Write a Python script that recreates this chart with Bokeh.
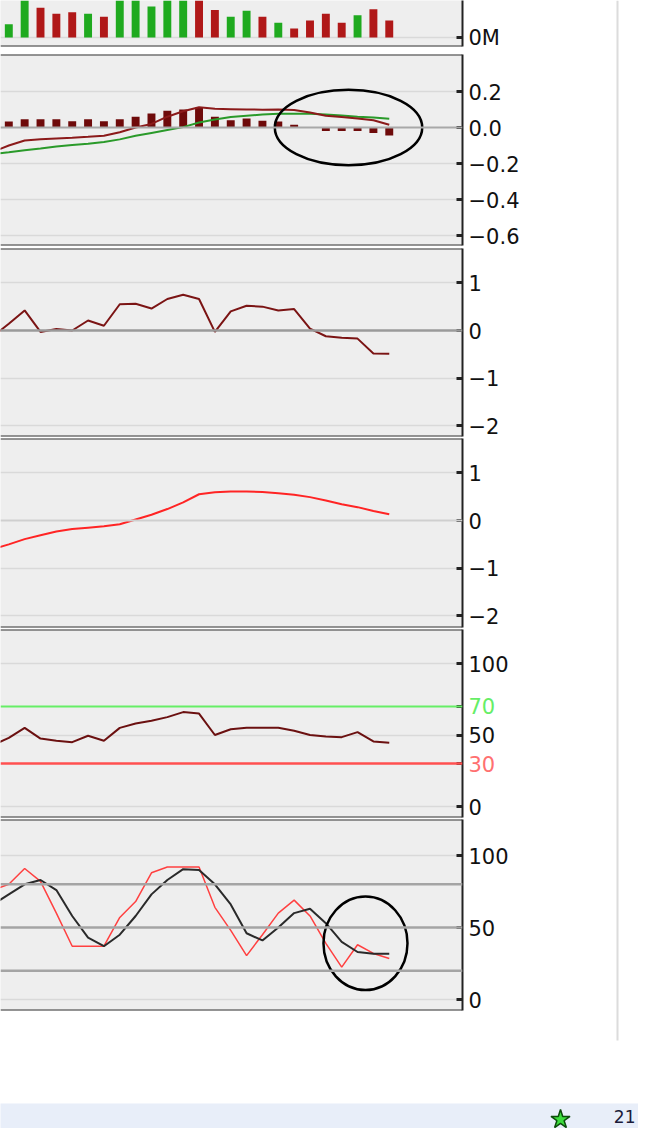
from bokeh.plotting import figure
from bokeh.models import Range1d, FixedTicker, Span
from bokeh.layouts import column, row
from bokeh.embed import file_html
from bokeh.resources import INLINE
from bokeh.core.properties import value

# ---------------- data ----------------
bar_idx = list(range(0, 25))          # one slot per trading day
line_idx = list(range(-1, 25))        # lines start one slot left of the crop

volume_m = [0.18, 0.62, 0.40, 0.32, 0.34, 0.32, 0.28, 0.70, 0.66, 0.42, 0.60, 0.75, 0.68,
            0.37, 0.28, 0.36, 0.28, 0.20, 0.12, 0.23, 0.32, 0.20, 0.30, 0.38, 0.23]
volume_up = [1, 1, 0, 0, 0, 1, 0, 1, 1, 1, 1, 1, 0,
             0, 1, 1, 0, 1, 0, 0, 0, 0, 1, 0, 0]

macd_hist = [0.033, 0.046, 0.046, 0.046, 0.035, 0.046, 0.035, 0.046, 0.06, 0.078, 0.093, 0.10, 0.11,
             0.06, 0.04, 0.05, 0.037, 0.033, 0.015, 0.0, -0.02, -0.02, -0.02, -0.03, -0.045]
macd_line = [-0.135, -0.10, -0.072, -0.065, -0.061, -0.057, -0.052, -0.046, -0.026, 0.0, 0.02, 0.06,
             0.09, 0.113, 0.104, 0.102, 0.10, 0.099, 0.10, 0.097, 0.083, 0.065, 0.058, 0.05, 0.04, 0.015]
macd_signal = [-0.148, -0.138, -0.127, -0.117, -0.106, -0.097, -0.09, -0.08, -0.066, -0.046, -0.03,
               -0.014, 0.002, 0.028, 0.045, 0.058, 0.065, 0.072, 0.076, 0.077, 0.076, 0.072, 0.067,
               0.06, 0.055, 0.048]

osc_a = [-0.12, 0.14, 0.42, -0.03, 0.03, 0.0, 0.21, 0.1, 0.55, 0.56, 0.46, 0.66, 0.75, 0.66, -0.03,
         0.4, 0.52, 0.5, 0.42, 0.45, 0.04, -0.12, -0.15, -0.17, -0.48, -0.49]
osc_b = [-0.6, -0.5, -0.39, -0.31, -0.23, -0.18, -0.15, -0.12, -0.08, 0.02, 0.12, 0.24, 0.38, 0.55,
         0.59, 0.61, 0.61, 0.6, 0.57, 0.54, 0.49, 0.42, 0.34, 0.28, 0.2, 0.13]

rsi = [43, 48, 55, 47.5, 46, 45, 49.5, 46, 55, 58, 60, 62.5, 66, 65, 50, 54, 55, 55, 55, 53, 50, 49,
       48.5, 52, 45.5, 44.5]
rsi_upper, rsi_lower = 70, 30

stoch_k = [76, 80, 91, 82, 60, 37, 37, 37, 57, 68, 88, 92, 92, 92, 64, 48, 30.5, 45, 60, 69, 58, 39,
           22.5, 38, 32, 28.5]
stoch_d = [66, 73, 80, 83, 76, 58, 43, 37, 45, 58, 73, 83, 90.5, 90, 80, 66, 46, 41, 50, 60, 63, 53,
           40, 33, 31.7, 31.7]
stoch_levels = [80, 50, 20]

# highlight circles drawn on the chart (data units)
macd_mark = dict(x=[21.43], y=[0.0], w=[9.3], h=[0.42])
stoch_mark = dict(x=[22.5], y=[39.0], w=[5.3], h=[65.0])

vol_ticks, vol_labels = [0], ["0M"]
macd_ticks, macd_labels = [0.2, 0.0, -0.2, -0.4, -0.6], ["0.2", "0.0", "\u22120.2", "\u22120.4", "\u22120.6"]
osc_ticks, osc_labels = [1, 0, -1, -2], ["1", "0", "\u22121", "\u22122"]
rsi_ticks, rsi_labels = [100, 70, 50, 30, 0], ["100", "70", "50", "30", "0"]
rsi_label_colors = ["#111111", "#66ee66", "#111111", "#ff7070", "#111111"]
stoch_ticks, stoch_labels = [100, 50, 0], ["100", "50", "0"]
footer_text = ["21"]

# ---------------- layout helpers ----------------
X0, X1 = -0.524, 28.62
FONT = "DejaVu Sans"
FS = "21px"
AX = "#222222"


def panel(height, top, bottom, yr, ticks, labels, grid_ticks, top_border=True, width=608,
          right=146):
    p = figure(width=width, height=height, x_range=Range1d(X0, X1),
               y_range=yr if isinstance(yr, Range1d) else Range1d(*yr),
               x_axis_location=None, y_axis_location="right", toolbar_location=None,
               output_backend="svg", min_border_left=0, min_border_right=right,
               min_border_top=top, min_border_bottom=bottom)
    p.background_fill_color = "#eeeeee"
    p.border_fill_color = "white"
    p.outline_line_color = None
    p.xgrid.grid_line_color = None
    p.ygrid.ticker = FixedTicker(ticks=grid_ticks)
    p.ygrid.grid_line_color = "#d9d9d9"
    p.ygrid.grid_line_width = 1.5
    ax = p.yaxis[0]
    ax.ticker = FixedTicker(ticks=ticks)
    ax.major_label_overrides = {t: l for t, l in zip(ticks, labels)}
    ax.minor_tick_line_color = None
    ax.major_tick_in = 6
    ax.major_tick_out = 0
    ax.major_tick_line_width = 3
    ax.major_tick_line_color = AX
    ax.axis_line_width = 2
    ax.axis_line_color = AX
    ax.major_label_text_font = FONT
    ax.major_label_text_font_size = FS
    ax.major_label_text_color = "#111111"
    ax.major_label_standoff = 6
    y0, y1 = p.y_range.start, p.y_range.end
    p.add_layout(Span(location=y0, dimension="width", line_color="#333333", line_width=2))
    if top_border:
        p.add_layout(Span(location=y1, dimension="width", line_color="#333333", line_width=2))
    return p


# volume
k = 0.0135
p_vol = panel(50, 0, 4, (-9 * k, 37 * k), vol_ticks, vol_labels, [0], top_border=False)
vol_colors = ["#1faa1f" if u else "#b01818" for u in volume_up]
p_vol.vbar(x=bar_idx, top=volume_m, bottom=0, width=0.5, fill_color=vol_colors, line_color=None)

# MACD
s = 0.2 / 36
p_macd = panel(198, 4, 3, (-(245 - 127) * s, (127 - 54) * s), macd_ticks, macd_labels,
               [0.2, -0.2, -0.4, -0.6])
p_macd.add_layout(Span(location=0, dimension="width", line_color="#a8a8a8", line_width=2))
p_macd.vbar(x=bar_idx, top=macd_hist, bottom=0, width=0.5, fill_color="#6e0a0a", line_color=None)
p_macd.line(line_idx, macd_signal, line_color="#2a9a2a", line_width=2)
p_macd.line(line_idx, macd_line, line_color="#8b1a1a", line_width=2)
p_macd.ellipse(x=macd_mark["x"], y=macd_mark["y"], width=macd_mark["w"], height=macd_mark["h"],
               fill_color=None, line_color="black", line_width=2.5)

# oscillator A
u = 47.7
p_a = panel(190, 0, 2, (-(436 - 330) / u, (330 - 248) / u), osc_ticks, osc_labels, [1, -1, -2])
p_a.add_layout(Span(location=0, dimension="width", line_color="#9a9a9a", line_width=2.5))
p_a.line(line_idx, osc_a, line_color="#7b1414", line_width=2)

# oscillator B
p_b = panel(190, 0, 1, (-(627 - 520) / u, (520 - 438) / u), osc_ticks, osc_labels, [1, -1, -2])
p_b.add_layout(Span(location=0, dimension="width", line_color="#cfcfcf", line_width=2))
p_b.line(line_idx, osc_b, line_color="#ff2424", line_width=2)

# RSI: plot with ticks, plus a label strip sharing the same y scale (coloured 70 / 30 labels)
r = 1.43
rsi_range = Range1d(-(817 - 806) / r, (806 - 629) / r)
p_rsi = panel(190, 1, 1, rsi_range, rsi_ticks, [""] * len(rsi_ticks), [100, 50, 0],
              width=468, right=6)
p_rsi.yaxis[0].major_label_standoff = 0
p_rsi.add_layout(Span(location=rsi_upper, dimension="width", line_color="#66ee66", line_width=2))
p_rsi.add_layout(Span(location=rsi_lower, dimension="width", line_color="#ff5050", line_width=2.5))
p_rsi.line(line_idx, rsi, line_color="#6b1010", line_width=2)

rsi_lab = figure(width=140, height=190, x_range=Range1d(0, 140), y_range=rsi_range,
                 x_axis_location=None, y_axis_location=None, toolbar_location=None,
                 output_backend="svg", min_border_left=0, min_border_right=0,
                 min_border_top=1, min_border_bottom=1)
rsi_lab.outline_line_color = None
rsi_lab.grid.grid_line_color = None
rsi_lab.background_fill_color = "white"
rsi_lab.text(x=[0] * len(rsi_ticks), y=rsi_ticks, text=rsi_labels, text_color=rsi_label_colors,
             text_font=value(FONT), text_font_size=FS, text_baseline="middle", text_align="left")

# Stochastic
q = 1.44
p_st = panel(285, 1, 93, (-(1010 - 999) / q, (999 - 819) / q), stoch_ticks, stoch_labels, [100, 0])
for lv in stoch_levels:
    p_st.add_layout(Span(location=lv, dimension="width", line_color="#a4a4a4", line_width=2.5))
p_st.line(line_idx, stoch_k, line_color="#ff4040", line_width=1.5)
p_st.line(line_idx, stoch_d, line_color="#2a2a2a", line_width=2)
p_st.ellipse(x=stoch_mark["x"], y=stoch_mark["y"], width=stoch_mark["w"], height=stoch_mark["h"],
             fill_color=None, line_color="black", line_width=2.5)

# right-hand page rule
side = figure(width=30, height=1103, x_range=Range1d(0, 30), y_range=Range1d(0, 1103),
              x_axis_location=None, y_axis_location=None, toolbar_location=None,
              output_backend="svg", min_border=0)
side.outline_line_color = None
side.grid.grid_line_color = None
side.background_fill_color = "white"
side.segment(x0=[9], y0=[63], x1=[9], y1=[1103], line_color="#dcdcdc", line_width=2)

# footer strip
strip = figure(width=638, height=25, x_range=Range1d(0, 638), y_range=Range1d(0, 25),
               x_axis_location=None, y_axis_location=None, toolbar_location=None,
               output_backend="svg", min_border=0)
strip.outline_line_color = None
strip.grid.grid_line_color = None
strip.background_fill_color = "#e8eef9"
strip.border_fill_color = "#e8eef9"
strip.scatter(x=[560], y=[9], marker="star", size=20, fill_color="#3ddc3d",
              line_color="#0b4d0b", line_width=1.5)
strip.text(x=[635], y=[12], text=footer_text, text_font=value(FONT), text_font_size="17px",
           text_baseline="middle", text_align="right", text_color="#1b1b3a")

left = column(p_vol, p_macd, p_a, p_b, row(p_rsi, rsi_lab), p_st)
page = column(row(left, side), strip)

open("out.html", "w").write(file_html(page, INLINE))
